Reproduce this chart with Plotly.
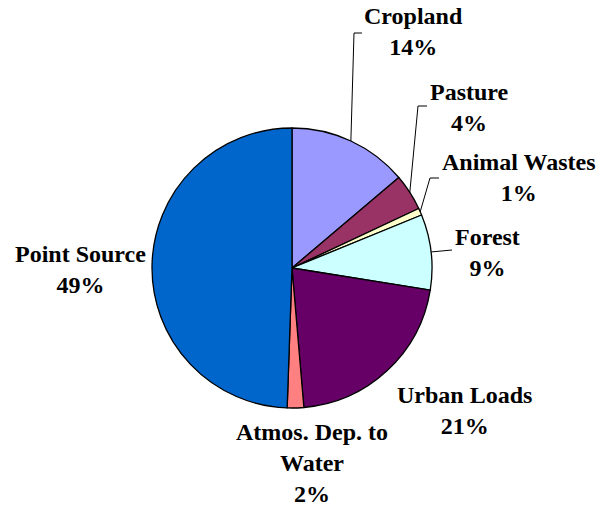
import math
import plotly.graph_objects as go

# Sources and their shares (%)
sources = ['Cropland', 'Pasture', 'Animal Wastes', 'Forest',
           'Urban Loads', 'Atmos. Dep. to<br>Water', 'Point Source']
shares = [13.8, 4.2, 0.8, 8.7, 21.1, 1.9, 49.4]
colors = ['#9999FF', '#993366', '#FFFFCC', '#CCFFFF',
          '#660066', '#FF8080', '#0066CC']

W, H = 598, 506
cx, cy, r = 292, 268, 140   # pie centre/radius in pixels

# label block centres (pixels) and leader-line elbows (None = no line)
label_pos = [(413, 32), (469, 107), (519, 178), (487, 252),
             (464, 410), (312, 463), (80, 269)]
leaders = [[(354, 33), (362, 33)],
           [(418, 106), (427, 106)],
           [(430, 178), (439, 178)],
           [(452, 250)],
           None, None, None]

label_font = dict(family='Liberation Serif', size=24, color='black',
                  weight='bold')


def px(x, y):
    return x / W, 1 - y / H


x0, y0 = px(cx - r, cy + r)
x1, y1 = px(cx + r, cy - r)
fig = go.Figure(go.Pie(
    labels=sources, values=shares, sort=False, direction='clockwise',
    rotation=0, textinfo='none', hoverinfo='label+percent',
    marker=dict(colors=colors, line=dict(color='black', width=1.3)),
    domain=dict(x=[x0, x1], y=[y0, y1]),
))

total = sum(shares)
cum = 0
for name, v, pos, lead in zip(sources, shares, label_pos, leaders):
    mid = (cum + v / 2) / total * 2 * math.pi
    cum += v
    pct = round(v / total * 100)
    x, y = px(*pos)
    fig.add_annotation(x=x, y=y, xref='paper', yref='paper',
                       text=f'{name}<br>{pct}%', showarrow=False,
                       font=label_font, xanchor='center', yanchor='middle',
                       borderpad=0)
    if lead:
        pts = [(cx + r * math.sin(mid), cy - r * math.cos(mid))] + lead
        path = 'M ' + ' L '.join(f'{px(a, b)[0]},{px(a, b)[1]}' for a, b in pts)
        fig.add_shape(type='path', path=path, xref='paper', yref='paper',
                      line=dict(color='black', width=1))

fig.update_layout(
    width=W, height=H, margin=dict(l=0, r=0, t=0, b=0),
    paper_bgcolor='white', plot_bgcolor='white', showlegend=False,
    font=label_font,
)
# drop the page's default body margin so the figure fills the window
fig.write_html('out.html', config={'displayModeBar': False},
               post_script="document.body.style.margin='0';")
